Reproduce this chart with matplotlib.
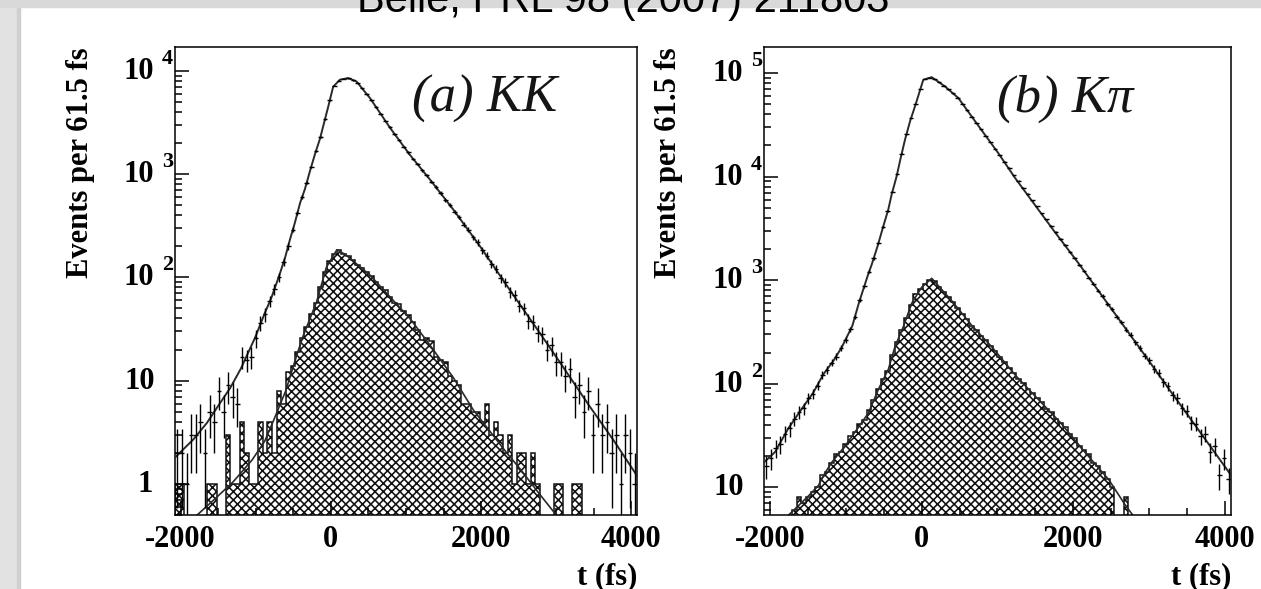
import matplotlib
matplotlib.use("Agg")
import matplotlib.pyplot as plt
import numpy as np
from matplotlib.ticker import FixedLocator, FixedFormatter, LogLocator, NullFormatter, MultipleLocator
from matplotlib.transforms import blended_transform_factory, offset_copy
from matplotlib.patches import Rectangle

plt.rcParams['font.family'] = ['Liberation Serif', 'DejaVu Serif']
plt.rcParams['font.weight'] = 'bold'
plt.rcParams['hatch.linewidth'] = 1.15

# binning: 100 bins of 61.5 fs
bin_width = 61.5
t_lo = -2075.0
t_hi = 4075.0

# (a) KK : events per bin (data) and background histogram
kk_data = [2, 2, 1, 3, 3, 4, 2, 5, 4, 8,
           5, 9, 7, 6, 17, 16, 17, 26, 36, 44,
           59, 77, 101, 141, 199, 290, 418, 596, 826, 1176,
           1670, 2305, 3430, 5160, 7200, 8050, 8330, 8480, 8140, 7670,
           6750, 5930, 5210, 4460, 3850, 3290, 2840, 2450, 2140, 1840,
           1620, 1400, 1250, 1085, 975, 840, 750, 655, 560, 505,
           430, 385, 322, 290, 244, 218, 182, 162, 135, 121,
           98, 90, 72, 67, 53, 50, 38, 37, 29, 28,
           20, 22, 15, 15, 11, 13, 7, 9, 5, 8,
           3, 6, 3, 4, 2, 3, 1, 3, 2, 1]
kk_bkg = [1, 1, 0, 0, 0, 0, 0, 1, 1, 0,
          0, 3, 1, 1, 4, 2, 1, 1, 4, 2,
          4, 2, 8, 6, 12, 14, 19, 26, 33, 44,
          57, 80, 113, 143, 170, 185, 168, 160, 146, 132,
          122, 112, 103, 91, 80, 75, 64, 57, 55, 47,
          43, 37, 31, 25, 26, 24, 17, 16, 15, 11,
          10, 9, 6, 6, 5, 5, 4, 6, 3, 4,
          3, 2, 3, 1, 2, 2, 1, 2, 1, 0,
          0, 0, 1, 1, 0, 0, 1, 1, 0, 0,
          0, 0, 0, 0, 0, 0, 0, 0, 0, 0]
# fit curves (t in fs, events)
kk_fit_t = [-2075, -1830, -1650, -1500, -1340, -1200, -1010, -880, -790, -680, -610, -545,
            -480, -410, -345, -280, -210, -145, -80, -35, 30, 120, 230, 340, 520, 790,
            1050, 1320, 1630, 1985, 2390, 2780, 3050, 3440, 3770, 4075]
kk_fit_v = [1.8, 2.7, 3.9, 5.7, 8.5, 13, 26, 45, 64, 108, 155, 232,
            336, 525, 718, 1060, 1575, 2200, 3360, 4500, 7000, 8200, 8500, 7900, 5450, 2790,
            1540, 883, 453, 200, 74, 29, 15, 5.7, 2.6, 1.2]
kk_bkg_t = [-1780, -1540, -1300, -1050, -880, -770, -600, -450, -370, -190, -60, 80,
            200, 521, 876, 1053, 1320, 1630, 1896, 2340, 2518, 2776, 3000]
kk_bkg_v = [0.5, 0.72, 1.05, 1.7, 2.6, 4.0, 8.0, 18, 27, 58, 125, 185,
            165, 105, 55, 40, 22, 10.7, 5.2, 2.0, 1.4, 0.8, 0.5]

# (b) Kpi
kp_data = [16, 19, 24, 26, 33, 37, 46, 53, 58, 72,
           80, 96, 121, 135, 160, 183, 222, 265, 335, 443,
           645, 870, 1210, 1620, 2280, 3250, 4630, 7120, 10570, 16650,
           25480, 36700, 50300, 70100, 86900, 89800, 87400, 81200, 75600, 69300,
           63500, 57700, 50500, 43500, 37900, 32700, 28500, 24600, 21500, 18400,
           16050, 13850, 12150, 10350, 9100, 7820, 6830, 5870, 5140, 4420,
           3870, 3310, 2900, 2480, 2180, 1870, 1640, 1400, 1230, 1050,
           925, 790, 700, 590, 525, 444, 395, 332, 297, 250,
           223, 186, 168, 140, 127, 103, 95, 77, 72, 58,
           55, 42, 41, 31, 33, 22, 25, 13, 19, 12]
kp_bkg = [0, 0, 0, 0, 0, 3, 6, 8, 7, 8,
          9, 10, 13, 14, 17, 21, 22, 26, 31, 34,
          41, 45, 56, 69, 88, 110, 133, 188, 254, 327,
          431, 574, 735, 815, 914, 1002, 970, 866, 770, 688,
          608, 538, 469, 417, 363, 327, 290, 262, 231, 208,
          181, 162, 141, 126, 110, 101, 89, 82, 72, 66,
          57, 53, 46, 42, 38, 33, 30, 25, 23, 21,
          17, 16, 14, 12, 10, 5, 4, 8, 0, 0,
          0, 0, 0, 0, 0, 0, 0, 0, 0, 0,
          0, 0, 0, 0, 0, 0, 0, 0, 0, 0]
kp_fit_t = [-2075, -1930, -1755, -1579, -1426, -1294, -1162, -1052, -912, -824, -701, -657,
            -578, -504, -438, -394, -328, -275, -218, -152, -87, 23, 134, 309, 484, 747,
            1011, 1231, 1494, 1757, 2065, 2467, 2943, 3262, 3633, 4075]
kp_fit_v = [17.4, 21.9, 37, 57, 82, 123, 166, 224, 361, 607, 1150, 1410,
            2140, 3310, 4810, 6710, 10070, 15100, 22700, 34100, 47500, 86000, 91000, 74000, 57300, 31000,
            16800, 9700, 5300, 2900, 1460, 571, 187, 88, 37, 13.1]
kp_bkg_t = [-1750, -1500, -1358, -1270, -1183, -1008, -854, -701, -569, -437, -349, -240,
            -130, 0, 134, 399, 664, 929, 1247, 1566, 1830, 2147, 2467, 2679, 2780]
kp_bkg_v = [5.4, 8.1, 10.4, 13.8, 17.4, 25, 36, 52, 88, 138, 229, 355,
            597, 850, 1040, 630, 363, 225, 118, 67, 42, 22, 11.8, 6.8, 5.4]

x_ticks = [-2000, 0, 2000, 4000]
x_labels = ['-2000', '0', '2000', '4000']

W, H = 1261, 589
fig = plt.figure(figsize=(W / 100, H / 100), dpi=100)

# slide frame (grey strips on the left and top)
fig.patches.append(Rectangle((0, 0), 19 / W, 1, transform=fig.transFigure, color='#e2e2e2', zorder=0))
fig.patches.append(Rectangle((17 / W, 0), 3 / W, 1, transform=fig.transFigure, color='#cfcfcf', zorder=0))
fig.patches.append(Rectangle((0, 1 - 7 / H), 1, 7 / H, transform=fig.transFigure, color='#d9d9d9', zorder=0))
fig.text(0.494, 1 - 12 / H, 'Belle, PRL 98 (2007) 211803', family='Liberation Sans',
         weight='normal', fontsize=30, ha='center', va='baseline', color='black')

edges = t_lo + bin_width * np.arange(101)
centers = 0.5 * (edges[:-1] + edges[1:])


def draw_panel(ax, data, bkg, fit_t, fit_v, bkg_t, bkg_v, ylim, majors, tag, tag_x):
    data = np.array(data, float)
    bkg = np.array(bkg, float)
    ax.stairs(np.where(bkg > 0, bkg, 1e-2), edges, baseline=1e-2, fill=True,
              facecolor='white', edgecolor='#111111', hatch='xxxx', linewidth=1.1, zorder=1)
    ax.plot(bkg_t, bkg_v, color='#2a2a2a', lw=1.2, zorder=2)
    ax.plot(fit_t, fit_v, color='#2a2a2a', lw=1.4, zorder=3)
    ok = data > 0
    err = np.sqrt(data)
    lo = np.minimum(err, data * 0.999)
    ax.errorbar(centers[ok], data[ok], xerr=bin_width / 2, yerr=[lo[ok], err[ok]],
                fmt='none', ecolor='black', elinewidth=1.0, capsize=0, zorder=4)

    ax.set_yscale('log')
    ax.set_xlim(t_lo, t_hi)
    ax.set_ylim(*ylim)
    ax.yaxis.set_major_locator(FixedLocator(majors))
    ax.yaxis.set_minor_locator(LogLocator(base=10, subs=np.arange(2, 10), numticks=20))
    ax.yaxis.set_major_formatter(NullFormatter())
    ax.yaxis.set_minor_formatter(NullFormatter())
    ax.xaxis.set_major_locator(FixedLocator(x_ticks))
    ax.xaxis.set_major_formatter(FixedFormatter(x_labels))
    ax.xaxis.set_minor_locator(MultipleLocator(500))
    ax.tick_params(which='both', direction='in', top=False, right=False, width=1.1)
    ax.tick_params(which='major', length=10)
    ax.tick_params(which='minor', length=5)
    ax.tick_params(axis='x', labelsize=22, pad=7)
    for s in ax.spines.values():
        s.set_linewidth(1.1)

    # ROOT-like y labels: "10" with raised exponent
    blend = blended_transform_factory(ax.transAxes, ax.transData)
    for v in majors:
        n = int(round(np.log10(v)))
        if n == 0:
            ax.text(0, v, '1', transform=offset_copy(blend, fig, x=-22, y=-8, units='dots'),
                    ha='right', va='baseline', fontsize=22)
        elif n == 1:
            ax.text(0, v, '10', transform=offset_copy(blend, fig, x=-20, y=-8, units='dots'),
                    ha='right', va='baseline', fontsize=22)
        else:
            ax.text(0, v, '10', transform=offset_copy(blend, fig, x=-21, y=-8, units='dots'),
                    ha='right', va='baseline', fontsize=22)
            ax.text(0, v, str(n), transform=offset_copy(blend, fig, x=-13, y=7, units='dots'),
                    ha='left', va='baseline', fontsize=16)

    ax.text(-0.205, 1.0, 'Events per 61.5 fs', transform=ax.transAxes, rotation=90,
            ha='center', va='top', fontsize=22)
    ax.text(1.0, -0.147, 't (fs)', transform=ax.transAxes, ha='right', va='baseline', fontsize=22)
    ax.text(tag_x, 0.861, tag, transform=ax.transAxes, ha='left', va='baseline',
            fontsize=38, style='italic', weight='normal', color='#151515')


ax1 = fig.add_axes([175 / W, 1 - 515 / H, 462 / W, 468 / H])
ax2 = fig.add_axes([764 / W, 1 - 515 / H, 467 / W, 468 / H])

draw_panel(ax1, kk_data, kk_bkg, kk_fit_t, kk_fit_v, kk_bkg_t, kk_bkg_v,
           (0.5, 17000), [1, 10, 100, 1000, 10000], '(a) KK', 0.513)
draw_panel(ax2, kp_data, kp_bkg, kp_fit_t, kp_fit_v, kp_bkg_t, kp_bkg_v,
           (5.4, 178000), [10, 100, 1000, 10000, 100000], '(b) K\u03c0', 0.499)

fig.savefig('out.png', dpi=100)
